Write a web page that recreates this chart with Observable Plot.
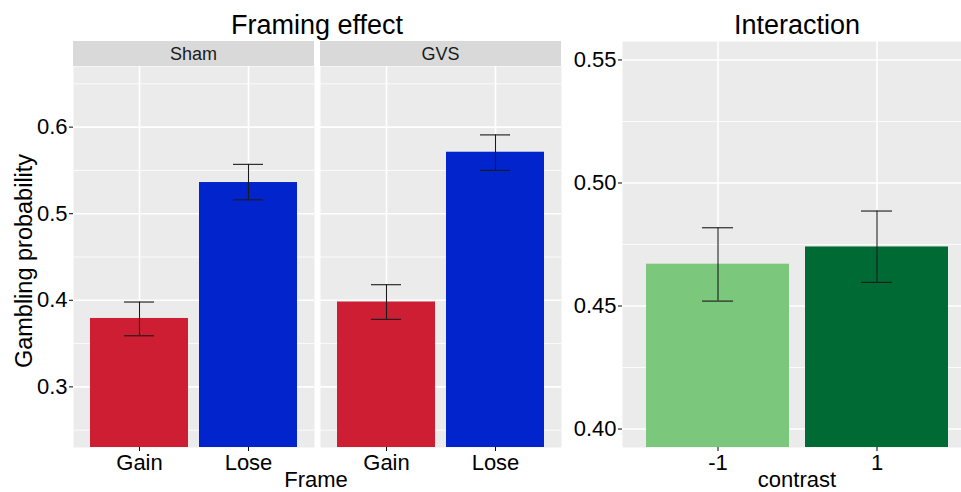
<!DOCTYPE html>
<html>
<head>
<meta charset="utf-8">
<script src="https://cdn.jsdelivr.net/npm/d3@7"></script>
<script src="https://cdn.jsdelivr.net/npm/@observablehq/plot@0.6"></script>
<style>
html, body { margin: 0; padding: 0; background: #fff; overflow: hidden; }
#root { position: relative; width: 961px; height: 492px; overflow: hidden; font-family: "Liberation Sans", Arial, sans-serif; background: #fff; }
.chart { position: absolute; top: 0; }
.txt { position: absolute; line-height: 1; white-space: nowrap; color: #000; transform: translateX(-50%); }
.strip { position: absolute; top: 41px; height: 25px; line-height: 25px; background: #D9D9D9; text-align: center; font-size: 18px; color: #1A1A1A; padding-top: 1px; box-sizing: border-box; }
</style>
</head>
<body>
<div id="root"></div>
<script>
// ---- data ----
const frames = ["Gain", "Lose"];
const frameColors = ["#CD1E34", "#0224CC"];
const shamMean = [0.379, 0.536];
const shamLow = [0.359, 0.516];
const shamHigh = [0.398, 0.557];
const gvsMean = [0.398, 0.571];
const gvsLow = [0.378, 0.550];
const gvsHigh = [0.418, 0.591];

const contrasts = ["-1", "1"];
const contrastColors = ["#7BC87C", "#006A35"];
const contrastMean = [0.467, 0.474];
const contrastLow = [0.452, 0.4596];
const contrastHigh = [0.4818, 0.4886];

const frameDomain = [0.23, 0.67];
const frameTicks = [0.3, 0.4, 0.5, 0.6];
const frameMinor = [0.25, 0.35, 0.45, 0.55, 0.65];
const contrastDomain = [0.3925, 0.5575];
const contrastTicks = [0.40, 0.45, 0.50, 0.55];
const contrastMinor = [0.425, 0.475, 0.525];

const FONT = '"Liberation Sans", Arial, sans-serif';
const root = document.getElementById("root");

function panel(o) {
  const data = o.cats.map((c, i) => ({cat: c, mean: o.mean[i], low: o.low[i], high: o.high[i]}));
  const errStroke = "#1A1A1A";
  const marks = [
    Plot.frame({fill: "#EBEBEB", stroke: null}),
    Plot.gridY(o.minor, {stroke: "white", strokeOpacity: 1, strokeWidth: 0.8}),
    Plot.gridY(o.ticks, {stroke: "white", strokeOpacity: 1, strokeWidth: 1.6}),
    Plot.gridX({stroke: "white", strokeOpacity: 1, strokeWidth: 1.6}),
    Plot.barY(data, {x: "cat", y1: o.domain[0], y2: "mean", fill: "cat"}),
    Plot.ruleX(data, {x: "cat", y1: "low", y2: "high", stroke: errStroke, strokeWidth: 1.1}),
    Plot.tickY(data, {x: "cat", y: "low", insetLeft: o.inset, insetRight: o.inset, stroke: errStroke, strokeWidth: 1.1}),
    Plot.tickY(data, {x: "cat", y: "high", insetLeft: o.inset, insetRight: o.inset, stroke: errStroke, strokeWidth: 1.1}),
    Plot.axisX({tickSize: 4, tickPadding: 3, fontSize: 22, label: null})
  ];
  if (o.showY) {
    marks.push(Plot.axisY(o.ticks, {
      tickSize: 4, tickPadding: 2, fontSize: 22, tickFormat: o.fmt, label: null
    }));
  }
  if (o.yLabel) {
    marks.push(Plot.text([o.yLabel], {
      text: d => d, frameAnchor: "left", textAnchor: "middle", lineAnchor: "middle",
      rotate: -90, dx: -49, dy: 4, fontSize: 23.5, fill: "black"
    }));
  }
  const yScale = {domain: o.domain, label: null};
  if (!o.showY) yScale.axis = null;
  const svg = Plot.plot({
    width: o.width, height: 492,
    marginLeft: o.marginLeft, marginRight: 0, marginTop: o.marginTop, marginBottom: 45,
    style: {fontFamily: FONT, background: "transparent", color: "black", overflow: "visible"},
    x: {domain: o.cats, paddingInner: 0.1, paddingOuter: 0.15, label: null},
    y: yScale,
    color: {domain: o.cats, range: o.colors},
    marks
  });
  svg.classList.add("chart");
  svg.style.left = o.left + "px";
  root.appendChild(svg);
}

panel({cats: frames, colors: frameColors, mean: shamMean, low: shamLow, high: shamHigh,
  domain: frameDomain, ticks: frameTicks, minor: frameMinor, fmt: d => d.toFixed(1),
  width: 314, left: 0, marginLeft: 73, marginTop: 66, showY: true,
  yLabel: "Gambling probability", inset: 34});

panel({cats: frames, colors: frameColors, mean: gvsMean, low: gvsLow, high: gvsHigh,
  domain: frameDomain, ticks: frameTicks, minor: frameMinor, fmt: d => d.toFixed(1),
  width: 241, left: 320, marginLeft: 0, marginTop: 66, showY: false, inset: 34});

panel({cats: contrasts, colors: contrastColors, mean: contrastMean, low: contrastLow, high: contrastHigh,
  domain: contrastDomain, ticks: contrastTicks, minor: contrastMinor, fmt: d => d.toFixed(2),
  width: 412, left: 560, marginLeft: 62, marginTop: 41, showY: true, inset: 56});

// ---- HTML labels ----
function addText(str, x, top, size) {
  const d = document.createElement("div");
  d.className = "txt";
  d.textContent = str;
  d.style.left = x + "px";
  d.style.top = top + "px";
  d.style.fontSize = size + "px";
  root.appendChild(d);
}
function addStrip(str, left, width) {
  const d = document.createElement("div");
  d.className = "strip";
  d.textContent = str;
  d.style.left = left + "px";
  d.style.width = width + "px";
  root.appendChild(d);
}
addStrip("Sham", 73, 241);
addStrip("GVS", 320, 241);
addText("Framing effect", 317, 12, 27);
addText("Interaction", 797, 12, 27);
addText("Frame", 316, 469, 22);
addText("contrast", 797, 469, 22);
</script>
</body>
</html>
